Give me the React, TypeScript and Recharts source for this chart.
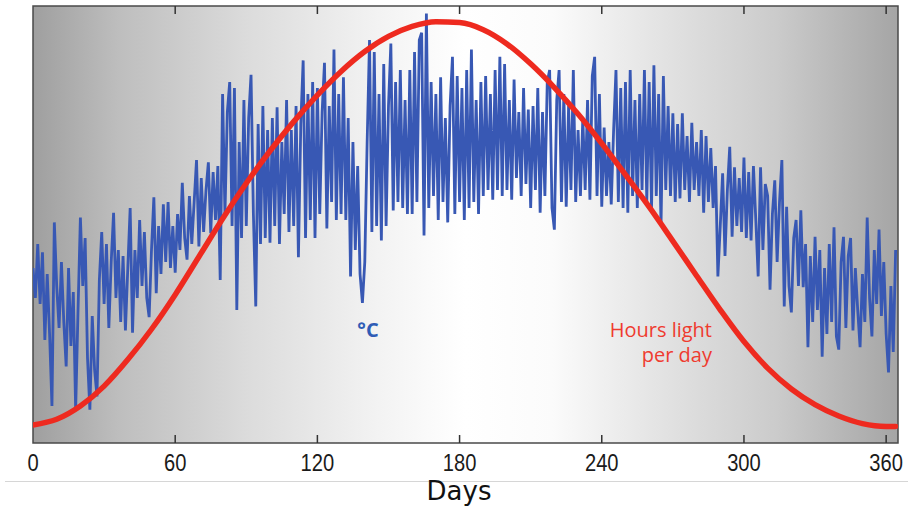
import React from 'react';
import { LineChart, Line, XAxis, YAxis, CartesianGrid, ReferenceArea } from 'recharts';

// Daily temperature (°C), day 0 .. 364
const temperature: number[] = [
  13.5, 11.0, 15.5, 10.5, 14.8, 7.5, 13.0, 8.0, 2.0, 17.3,
  12.0, 8.5, 14.0, 9.0, 5.3, 13.5, 7.0, 11.5, 1.7, 10.0,
  17.7, 12.0, 16.0, 6.0, 1.7, 9.5, 5.0, 2.8, 12.5, 16.5,
  10.5, 15.5, 8.5, 14.0, 18.1, 11.0, 15.0, 9.0, 14.5, 8.3,
  13.5, 18.5, 8.1, 15.0, 11.0, 17.5, 12.0, 16.5, 11.0, 9.4,
  15.0, 19.4, 11.4, 17.0, 13.0, 18.8, 14.0, 19.0, 13.5, 17.0,
  13.1, 18.0, 15.0, 20.6, 16.0, 14.2, 19.5, 15.5, 19.0, 22.5,
  15.3, 21.0, 16.5, 20.0, 22.3, 16.4, 21.5, 17.5, 22.0, 12.5,
  28.0, 18.0, 26.5, 29.0, 17.0, 28.5, 10.0, 24.0, 16.0, 27.5,
  17.0, 26.0, 29.6, 18.0, 10.3, 25.5, 15.5, 27.0, 16.0, 25.0,
  15.6, 26.0, 17.0, 26.9, 15.5, 24.0, 18.0, 27.5, 16.5, 25.0,
  17.0, 27.0, 14.4, 25.5, 30.8, 16.0, 28.0, 17.5, 29.0, 16.0,
  28.5, 18.0, 26.5, 30.6, 16.8, 27.0, 19.0, 31.7, 17.5, 28.0,
  18.0, 29.4, 17.5, 26.0, 12.8, 24.0, 15.0, 22.0, 13.0, 10.6,
  14.0, 24.0, 32.5, 16.5, 31.5, 17.0, 28.0, 15.8, 30.5, 17.0,
  27.0, 32.2, 18.3, 29.0, 19.0, 30.0, 18.5, 27.5, 18.0, 30.0,
  18.0, 31.5, 19.0, 32.5, 33.1, 16.2, 34.7, 18.5, 29.0, 19.5,
  28.0, 17.5, 29.4, 19.0, 26.0, 17.3, 27.0, 31.1, 18.0, 29.5,
  19.0, 28.5, 17.5, 30.0, 18.5, 31.7, 19.0, 27.5, 18.0, 29.0,
  19.5, 29.5, 20.0, 28.0, 19.2, 30.0, 20.0, 31.1, 19.5, 30.5,
  20.0, 27.5, 19.2, 29.2, 21.0, 26.5, 19.5, 28.5, 20.5, 26.7,
  18.5, 27.0, 20.0, 28.5, 18.1, 26.5, 19.5, 29.0, 30.0, 18.5,
  16.7, 27.5, 30.0, 19.0, 28.0, 18.6, 27.0, 20.0, 30.0, 19.0,
  25.0, 19.5, 26.0, 20.0, 27.5, 19.2, 29.5, 31.1, 19.5, 28.0,
  18.6, 25.2, 19.5, 24.0, 18.8, 25.0, 30.0, 19.0, 28.5, 18.5,
  29.0, 18.1, 30.0, 19.5, 27.5, 18.5, 28.0, 20.0, 30.0, 19.0,
  29.0, 18.5, 30.4, 19.5, 28.0, 17.0, 29.5, 20.0, 27.0, 19.5,
  26.4, 19.0, 25.5, 19.3, 26.4, 20.0, 24.5, 19.0, 25.6, 20.0,
  24.0, 19.5, 25.0, 18.1, 24.5, 19.0, 23.5, 18.5, 22.0, 12.8,
  17.0, 21.4, 14.5, 20.0, 23.6, 16.1, 21.9, 17.0, 21.0, 16.5,
  22.7, 16.0, 21.5, 15.8, 22.0, 17.5, 12.8, 21.9, 15.0, 20.5,
  19.5, 11.7, 18.0, 20.8, 14.0, 19.0, 22.5, 10.3, 18.6, 12.0,
  9.8, 16.0, 17.5, 12.0, 18.3, 11.9, 15.5, 6.9, 14.5, 9.0,
  16.1, 10.0, 15.0, 6.1, 13.5, 8.0, 15.5, 9.0, 16.9, 7.8,
  6.7, 14.0, 16.1, 8.5, 14.5, 16.0, 8.3, 13.5, 10.0, 6.9,
  13.0, 9.0, 17.7, 11.0, 7.8, 15.0, 10.5, 16.7, 9.5, 14.0,
  8.0, 4.8, 12.0, 6.5, 15.0,
];

// Hours of daylight, read every 10 days
const hoursDays: number[] = [
  0, 10, 20, 30, 40, 50, 60, 70, 80, 90, 100, 110, 120, 130, 140, 150, 160, 170, 180,
  190, 200, 210, 220, 230, 240, 250, 260, 270, 280, 290, 300, 310, 320, 330, 340, 350, 360, 364,
];
const hoursValues: number[] = [
  8.0, 8.12, 8.4, 8.82, 9.38, 10.02, 10.75, 11.55, 12.35, 13.1, 13.78, 14.4, 14.96, 15.46, 15.88, 16.2, 16.41, 16.51, 16.49,
  16.34, 16.04, 15.62, 15.12, 14.56, 13.94, 13.28, 12.6, 11.88, 11.15, 10.43, 9.76, 9.2, 8.76, 8.43, 8.19, 8.03, 7.97, 7.97,
];

const xTicks: number[] = [0, 60, 120, 180, 240, 300, 360];

const PLOT_TOP = 6;
const PLOT_BOTTOM = 443;

const hoursByDay: Record<number, number> = {};
hoursDays.forEach((d, i) => {
  hoursByDay[d] = hoursValues[i];
});

const rows = temperature.map((t, i) => ({
  day: i,
  temp: t,
  hours: hoursByDay[i] !== undefined ? hoursByDay[i] : null,
}));

const renderTick = (props: any) => {
  const { x, payload } = props;
  const v = payload.value;
  return (
    <g>
      {v !== 0 && (
        <>
          <line x1={x} y1={PLOT_BOTTOM} x2={x} y2={PLOT_BOTTOM - 8} stroke="#333" strokeWidth={1.5} />
          <line x1={x} y1={PLOT_TOP} x2={x} y2={PLOT_TOP + 8} stroke="#333" strokeWidth={1.5} />
        </>
      )}
      <text
        transform={`translate(${x} ${PLOT_BOTTOM + 28}) scale(0.84 1)`}
        textAnchor="middle"
        fontFamily="'Liberation Sans', Arial, sans-serif"
        fontSize={24}
        fill="#1a1a1a"
      >
        {v}
      </text>
    </g>
  );
};

export default function App() {
  return (
    <div style={{ position: 'absolute', left: 0, top: 0, width: 908, height: 510, background: '#ffffff' }}>
      <LineChart width={908} height={510} data={rows} margin={{ top: 6, right: 10, left: 33, bottom: 37 }}>
        <defs>
          <linearGradient id="bgGrad" x1="0" y1="0" x2="1" y2="0">
            <stop offset="0" stopColor="#9f9f9f" />
            <stop offset="0.1" stopColor="#bebebe" />
            <stop offset="0.25" stopColor="#dcdcdc" />
            <stop offset="0.4" stopColor="#f3f3f3" />
            <stop offset="0.5" stopColor="#ffffff" />
            <stop offset="0.6" stopColor="#fbfbfb" />
            <stop offset="0.72" stopColor="#e4e4e4" />
            <stop offset="0.86" stopColor="#cbcbcb" />
            <stop offset="1" stopColor="#a5a5a5" />
          </linearGradient>
        </defs>
        <CartesianGrid yAxisId="t" horizontal={false} vertical={false} fill="url(#bgGrad)" fillOpacity={1} />
        <XAxis
          dataKey="day"
          type="number"
          domain={[0, 365]}
          ticks={xTicks}
          interval={0}
          tick={renderTick}
          tickLine={false}
          axisLine={false}
          tickSize={0}
          height={30}
          allowDataOverflow
        />
        <YAxis yAxisId="t" hide domain={[-1.083, 35.333]} allowDataOverflow />
        <YAxis yAxisId="h" hide orientation="right" domain={[7.62, 16.84]} allowDataOverflow />
        <Line
          yAxisId="t"
          dataKey="temp"
          type="linear"
          stroke="#3858b4"
          strokeWidth={2.8}
          strokeLinejoin="miter"
          dot={false}
          activeDot={false}
          isAnimationActive={false}
        />
        <Line
          yAxisId="h"
          dataKey="hours"
          type="monotone"
          stroke="#ee2a1f"
          strokeWidth={5.5}
          strokeLinecap="round"
          dot={false}
          activeDot={false}
          connectNulls
          isAnimationActive={false}
        />
        <ReferenceArea
          yAxisId="t"
          x1={0}
          x2={365}
          y1={-1.083}
          y2={35.333}
          fill="none"
          stroke="#4a4a4a"
          strokeWidth={1.5}
          ifOverflow="visible"
        />
      </LineChart>
      <svg width={908} height={510} style={{ position: 'absolute', left: 0, top: 0, pointerEvents: 'none' }}>
        <text x={368} y={337} textAnchor="middle" fontFamily="'Open Sans', sans-serif" fontWeight={700} fontSize={20} fill="#2f5cb6">
          °C
        </text>
        <text x={712} y={337} textAnchor="end" fontFamily="'Open Sans', sans-serif" fontSize={20} fill="#ef3b2f">
          Hours light
        </text>
        <text x={712} y={362} textAnchor="end" fontFamily="'Open Sans', sans-serif" fontSize={20} fill="#ef3b2f">
          per day
        </text>
        <line x1={5} y1={481.5} x2={908} y2={481.5} stroke="#d6d6d6" strokeWidth={1} />
        <text x={459} y={500} textAnchor="middle" fontFamily="'DejaVu Sans', sans-serif" fontSize={26} fill="#111">
          Days
        </text>
      </svg>
    </div>
  );
}
